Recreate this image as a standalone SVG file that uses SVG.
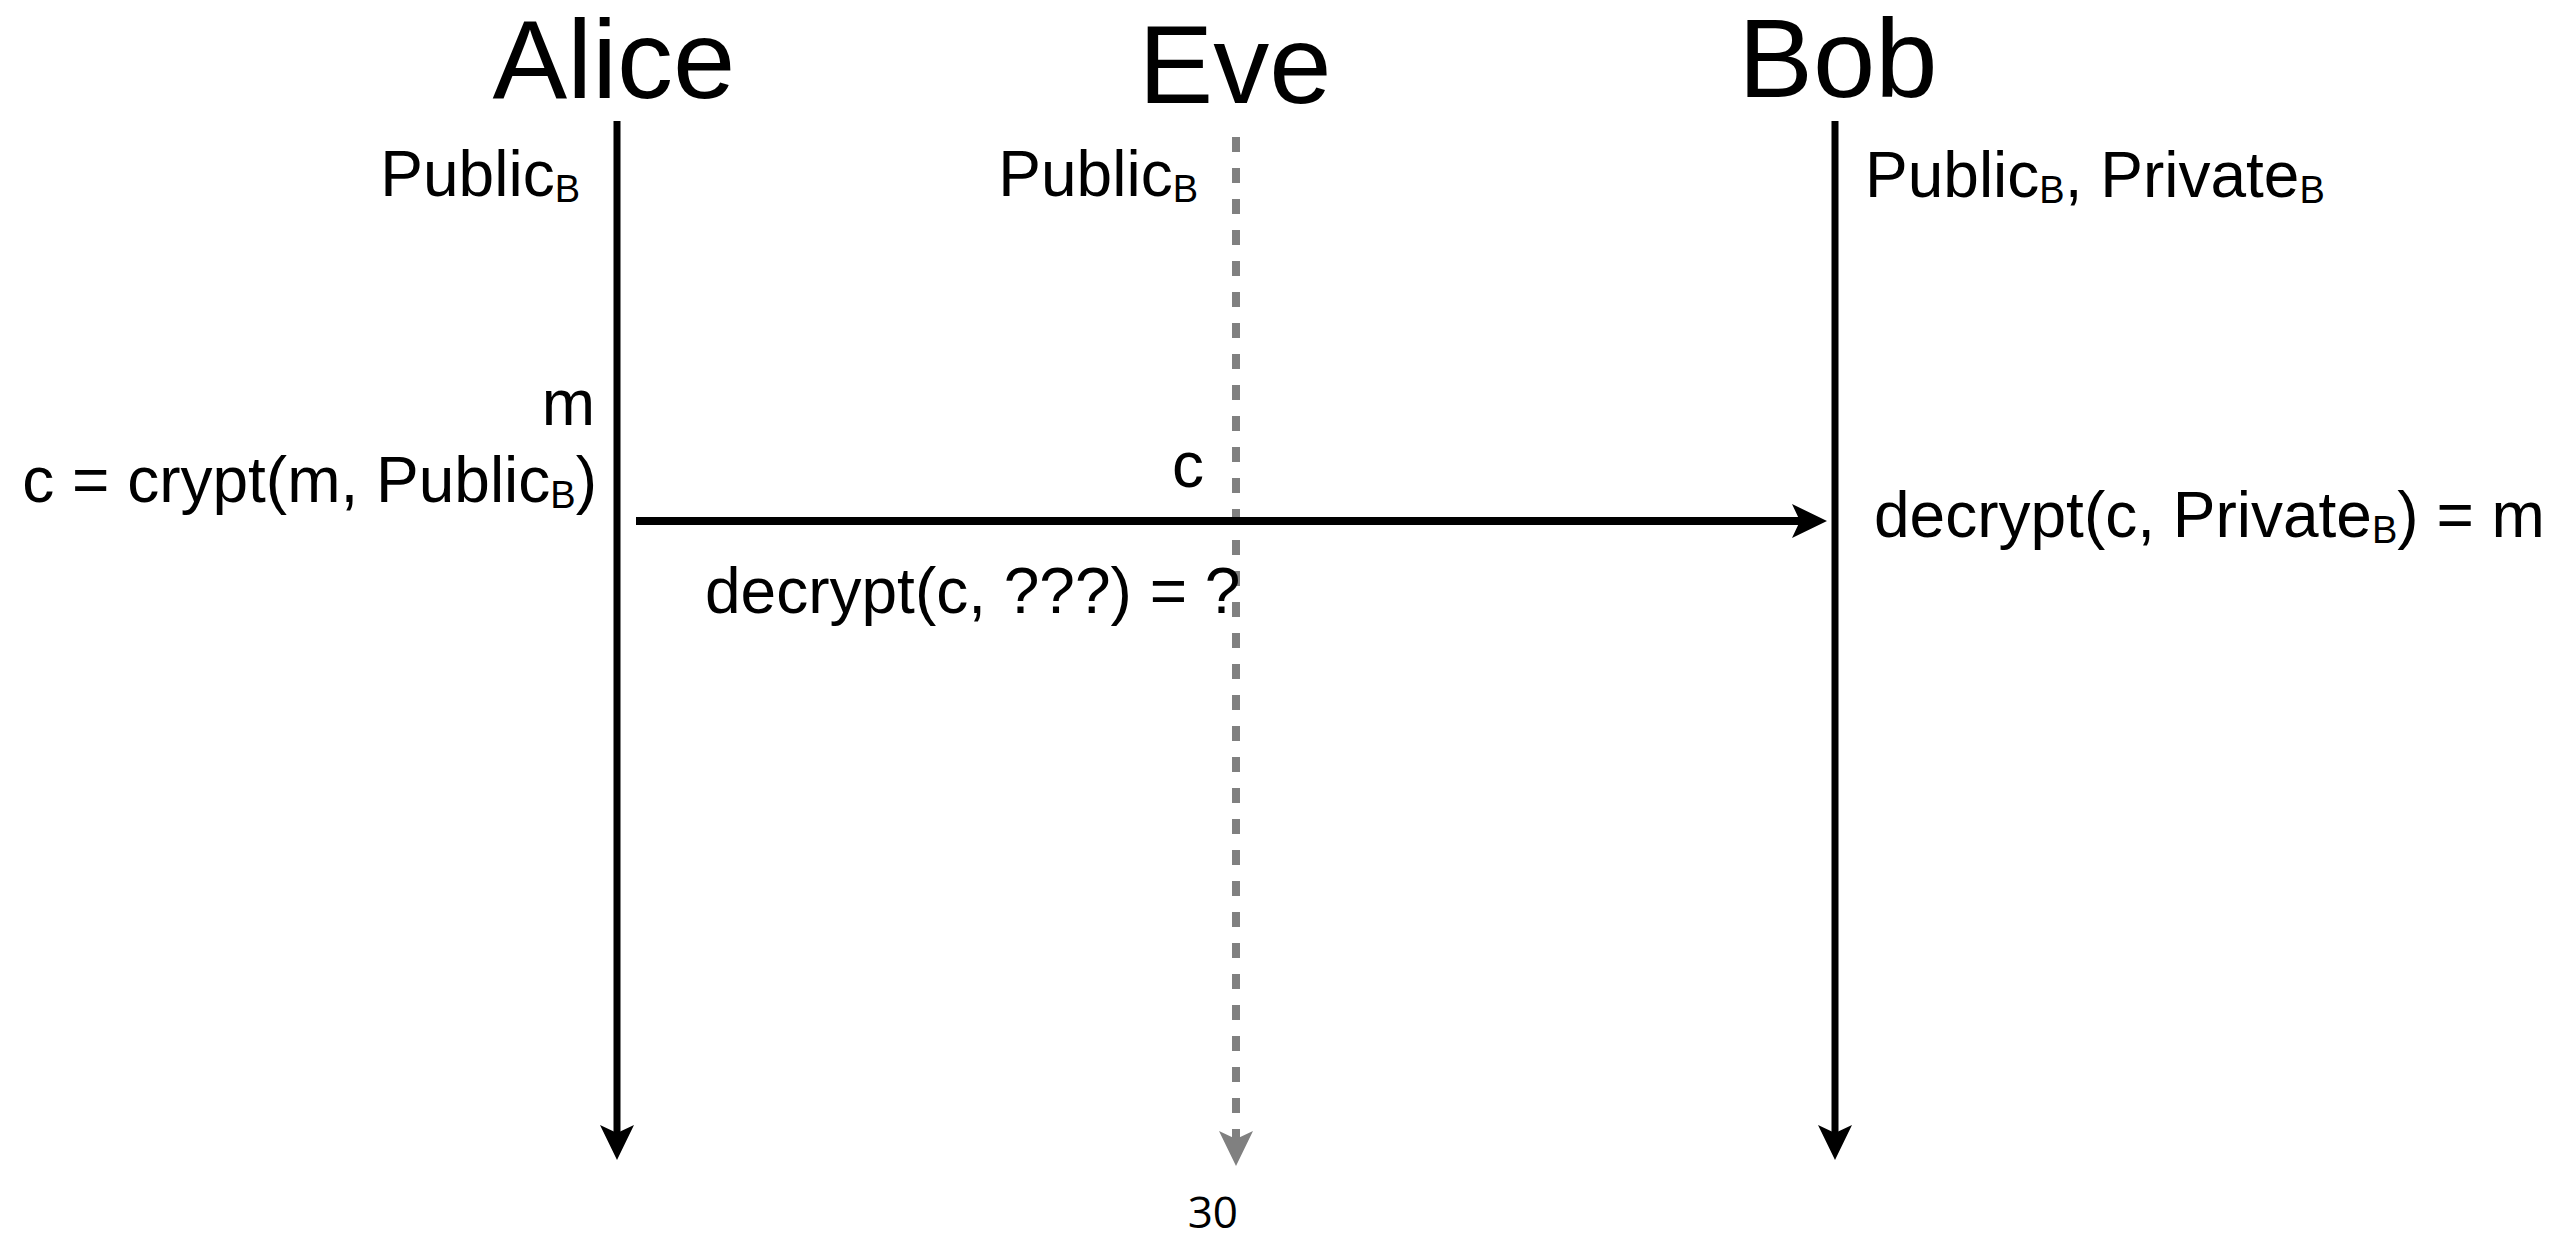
<svg xmlns="http://www.w3.org/2000/svg" width="2564" height="1236" viewBox="0 0 2564 1236">
  <style>
    text { font-family: "Liberation Sans", Arial, sans-serif; fill: #000; }
    .title { font-size: 112px; text-anchor: middle; }
    .lbl { font-size: 64px; }
    .sub { font-size: 38px; }
    .page { font-family: "Open Sans", "Noto Sans", sans-serif; font-size: 44px; text-anchor: end; }
    .life { stroke: #000; stroke-width: 7; fill: none; }
    .tap { stroke: #808080; stroke-width: 8; fill: none; stroke-dasharray: 15 16; }
  </style>
  <defs>
    <!-- concave-backed arrowhead pointing along +y, tip at origin -->
    <path id="headDown" d="M0,0 L-17,-35 L0,-27 L17,-35 Z"/>
  </defs>
  <rect width="2564" height="1236" fill="#fff"/>

  <!-- Alice -->
  <g id="alice">
    <text class="title" x="614" y="98">Alice</text>
    <line class="life" x1="617" y1="121" x2="617" y2="1136"/>
    <use href="#headDown" x="617" y="1160" fill="#000"/>
    <text class="lbl" x="580" y="196" text-anchor="end">Public<tspan class="sub" dy="6">B</tspan></text>
    <text class="lbl" x="595" y="425" text-anchor="end">m</text>
    <text class="lbl" x="597" y="502" text-anchor="end">c = crypt(m, Public<tspan class="sub" dy="6">B</tspan><tspan dy="-6">)</tspan></text>
  </g>

  <!-- Eve -->
  <g id="eve">
    <text class="title" x="1235" y="103">Eve</text>
    <line class="tap" x1="1236" y1="137" x2="1236" y2="1140"/>
    <use href="#headDown" x="1236" y="1166" fill="#808080"/>
    <text class="lbl" x="1198" y="196" text-anchor="end">Public<tspan class="sub" dy="6">B</tspan></text>
    <text class="lbl" x="1172" y="487">c</text>
    <text class="lbl" x="705" y="613">decrypt(c, ???) = ?</text>
  </g>

  <!-- Bob -->
  <g id="bob">
    <text class="title" x="1838" y="97">Bob</text>
    <line class="life" x1="1835" y1="121" x2="1835" y2="1136"/>
    <use href="#headDown" x="1835" y="1160" fill="#000"/>
    <text class="lbl" x="1865" y="197">Public<tspan class="sub" dy="6">B</tspan><tspan dy="-6">, Private</tspan><tspan class="sub" dy="6">B</tspan></text>
    <text class="lbl" x="1874" y="537">decrypt(c, Private<tspan class="sub" dy="6">B</tspan><tspan dy="-6">) = m</tspan></text>
  </g>

  <!-- message Alice to Bob -->
  <g id="connectors">
    <line x1="636" y1="521" x2="1802" y2="521" stroke="#000" stroke-width="8"/>
    <path d="M1827,521 L1792,504 L1800,521 L1792,538 Z" fill="#000"/>
  </g>

  <text class="page" x="1238" y="1228">30</text>
</svg>
